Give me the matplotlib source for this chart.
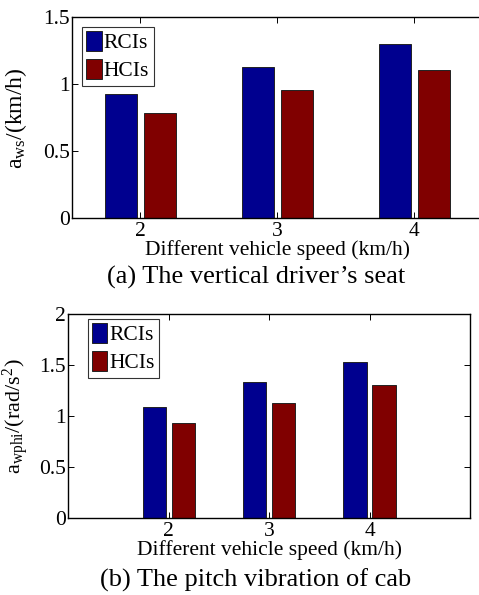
import matplotlib
matplotlib.use("Agg")
import matplotlib.pyplot as plt
import numpy as np

speeds = [2, 3, 4]
seat_rcis = [0.925, 1.131, 1.303]
seat_hcis = [0.784, 0.960, 1.107]
pitch_rcis = [1.089, 1.331, 1.526]
pitch_hcis = [0.930, 1.132, 1.301]

series_names = ["RCIs", "HCIs"]
colors = ["#00008F", "#800000"]

plt.rcParams["font.family"] = ["Liberation Serif", "DejaVu Serif"]
plt.rcParams["mathtext.fontset"] = "custom"
plt.rcParams["mathtext.rm"] = "Liberation Serif"
plt.rcParams["mathtext.it"] = "Liberation Serif:italic"

W, H = 479, 595
fig = plt.figure(figsize=(W / 100, H / 100), dpi=100)


def px_axes(left, top, right, bottom):
    return fig.add_axes([left / W, 1 - bottom / H, (right - left) / W, (bottom - top) / H])


def draw_panel(ax, rcis, hcis, xlim, ylim, yticks, ylabel, label_x, label_size, legend_xy, right_ticks):
    x = np.array(speeds, dtype=float)
    width = 0.232
    off = 0.145
    ax.bar(x - off, rcis, width, color=colors[0], edgecolor="#222222", linewidth=0.7, label=series_names[0])
    ax.bar(x + off, hcis, width, color=colors[1], edgecolor="#222222", linewidth=0.7, label=series_names[1])
    ax.set_xlim(*xlim)
    ax.set_ylim(*ylim)
    ax.set_xticks(speeds)
    ax.set_yticks(yticks)
    ax.set_yticklabels([f"{v:g}" for v in yticks])
    ax.tick_params(direction="in", length=4, width=0.7, top=True, right=right_ticks, labelsize=15.5)
    ax.tick_params(axis="x", pad=3)
    ax.tick_params(axis="y", pad=1.5)
    for s in ax.spines.values():
        s.set_linewidth(1.0)
    ax.set_xlabel("Different vehicle speed (km/h)", fontsize=15.5, labelpad=-1)
    ax.set_ylabel(ylabel, fontsize=label_size)
    ax.yaxis.set_label_coords(label_x, 0.5)
    leg = ax.legend(loc="upper left", bbox_to_anchor=legend_xy, fontsize=15.5, frameon=True,
                    fancybox=False, handlelength=0.72, handleheight=1.0, handletextpad=0.1,
                    labelspacing=0.28, borderpad=0.2, borderaxespad=0.0)
    leg.get_frame().set_edgecolor("black")
    leg.get_frame().set_linewidth(0.8)


ax1 = px_axes(72, 17.3, 483, 218.3)
draw_panel(ax1, seat_rcis, seat_hcis, (1.5, 4.5), (0, 1.5), [0, 0.5, 1, 1.5],
           r"$\mathrm{a_{ws}}$/(km/h)", -0.105, 17, (0.024, 0.952), False)
fig.text(256 / W, 1 - 277 / H, "(a) The vertical driver\u2019s seat", fontsize=19, ha="center", va="center")

ax2 = px_axes(68.3, 314, 470, 518.3)
draw_panel(ax2, pitch_rcis, pitch_hcis, (1, 5), (0, 2), [0, 0.5, 1, 1.5, 2],
           r"$\mathrm{a_{wphi}}$/(rad/s$^2$)", -0.092, 16, (0.048, 0.975), True)
fig.text(256 / W, 1 - 580 / H, "(b) The pitch vibration of cab", fontsize=19, ha="center", va="center")

fig.savefig("out.png", dpi=100)
